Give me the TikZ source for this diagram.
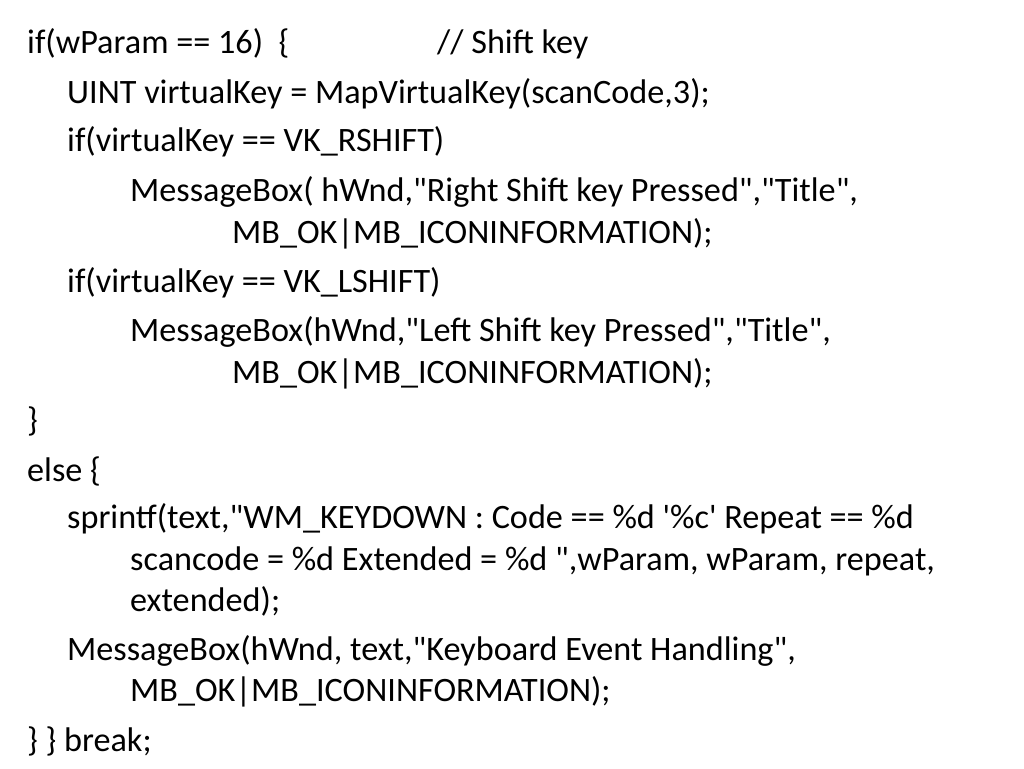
\documentclass[tikz,border=0pt]{standalone}
\usepackage{fontspec}
\setmainfont{Carlito}
\newcommand\dq{\textquotedbl}
\newcommand\sq{\textquotesingle}
\begin{document}
\begin{tikzpicture}[x=1pt,y=1pt,
  code/.style={anchor=base west,inner sep=0pt,font=\fontsize{34.2}{40}\selectfont,text=black}]
\useasboundingbox[fill=white] (0,0) rectangle (1024,-768);
\node[code] (l1) at (27,-53) {if(wParam == 16)\ \ \{};
\node[code] (c1) at (437,-53) {// Shift key};
\node[code] (l2) at (67,-103) {UINT virtualKey = MapVirtualKey(scanCode,3);};
\node[code] (l3) at (67,-151) {if(virtualKey == VK\_RSHIFT)};
\node[code] (l4) at (130,-201) {MessageBox( hWnd,\dq Right Shift key Pressed\dq,\dq Title\dq,};
\node[code] (l5) at (232,-243) {MB\_OK|MB\_ICONINFORMATION);};
\node[code] (l6) at (67,-292) {if(virtualKey == VK\_LSHIFT)};
\node[code] (l7) at (130,-341) {MessageBox(hWnd,\dq Left Shift key Pressed\dq,\dq Title\dq,};
\node[code] (l8) at (232,-383) {MB\_OK|MB\_ICONINFORMATION);};
\node[code] (l9) at (27,-431) {\}};
\node[code] (l10) at (27,-481) {else \{};
\node[code] (l11) at (67,-528) {sprintf(text,\dq WM\_KEYDOWN : Code == \%d \sq\%c\sq\ Repeat == \%d};
\node[code] (l12) at (130,-570) {scancode = \%d Extended = \%d \dq,wParam, wParam, repeat,};
\node[code] (l13) at (130,-611) {extended);};
\node[code] (l14) at (67,-660) {MessageBox(hWnd, text,\dq Keyboard Event Handling\dq,};
\node[code] (l15) at (130,-701) {MB\_OK|MB\_ICONINFORMATION);};
\node[code] (l16) at (27,-751) {\} \} break;};
\end{tikzpicture}
\end{document}
